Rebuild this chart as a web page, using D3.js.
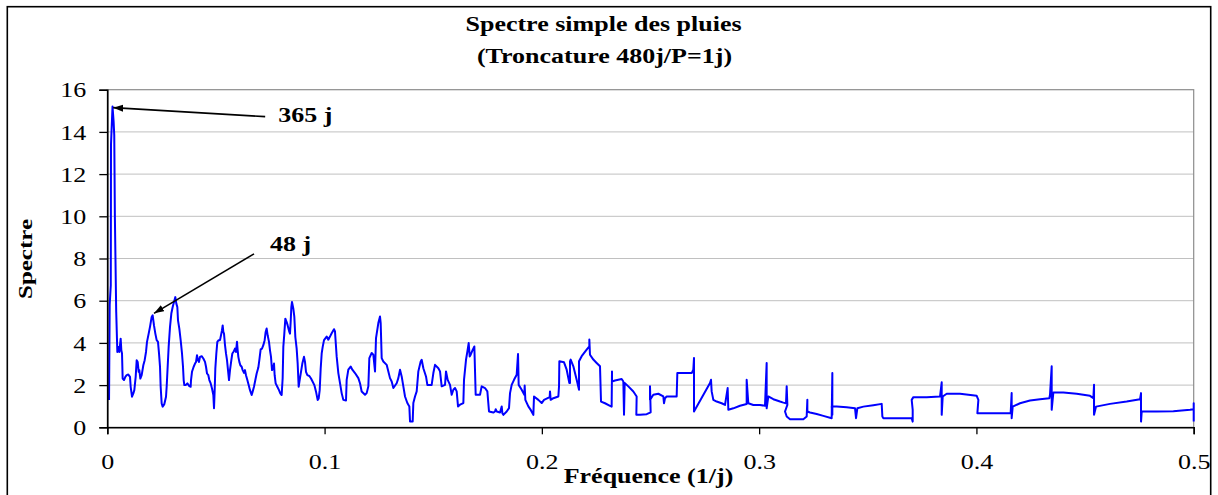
<!DOCTYPE html>
<html><head><meta charset="utf-8">
<script src="https://cdn.jsdelivr.net/npm/d3@7"></script>
<style>body{margin:0;background:#fff}svg{display:block}</style>
</head><body>
<svg id="c" width="1218" height="495"></svg>
<script>
// ---- data ----
const frequence = [
0.0008,0.0011,0.0016,0.0017,0.0024,0.0029,0.0032,0.0035,0.0041,
0.00462,0.00508,0.00554,0.00615,0.00646,0.00677,0.00707,0.00769,0.00830,0.00891,
0.00968,0.01045,0.01076,0.01137,0.01198,0.01244,0.01306,0.01352,0.01398,0.01444,
0.01474,0.01520,0.01582,0.01658,0.01720,0.01781,0.01827,0.01904,0.01965,0.02042,
0.02088,0.02149,0.02211,0.02272,0.02333,0.02380,0.02426,0.02456,0.02502,0.02548,
0.02625,0.02702,0.02732,0.02778,0.02824,0.02886,0.02947,0.03009,0.03070,0.03131,
0.03177,0.03223,0.03254,0.03315,0.03376,0.03438,0.03484,0.03515,0.03545,0.03607,
0.03684,0.03776,0.03837,0.03853,0.03898,0.03975,0.04037,0.04083,0.04129,0.04175,
0.04221,0.04267,0.04343,0.04420,0.04497,0.04543,0.04589,0.04650,0.04696,0.04758,
0.04819,0.04880,0.04911,0.04942,0.04972,0.05018,0.05064,0.05126,0.05187,0.05233,
0.05279,0.05310,0.05340,0.05371,0.05417,0.05463,0.05509,0.05555,0.05601,0.05647,
0.05709,0.05755,0.05801,0.05847,0.05877,0.05923,0.05969,0.06000,0.06031,0.06077,
0.06123,0.06184,0.06230,0.06291,0.06337,0.06383,0.06445,0.06506,0.06567,0.06644,
0.06690,0.06751,0.06813,0.06874,0.06951,0.06997,0.07058,0.07119,0.07181,0.07242,
0.07288,0.07334,0.07380,0.07442,0.07488,0.07534,0.07580,0.07626,0.07672,0.07702,
0.07748,0.07825,0.07902,0.07963,0.08024,0.08070,0.08101,0.08147,0.08194,0.08255,
0.08301,0.08378,0.08408,0.08439,0.08470,0.08500,0.08562,0.08608,0.08654,0.08715,
0.08761,0.08807,0.08853,0.08915,0.08976,0.09053,0.09099,0.09145,0.09207,0.09299,
0.09376,0.09452,0.09529,0.09606,0.09683,0.09729,0.09775,0.09821,0.09867,0.09913,
0.09974,
0.10096,0.10172,0.10249,0.10326,0.10433,0.10479,0.10556,0.10633,0.10710,0.10786,
0.10863,0.10986,0.11017,0.11093,0.11201,0.11278,0.11400,0.11554,0.11630,0.11707,
0.11861,0.11937,0.12014,0.12060,0.12167,0.12244,0.12321,0.12367,0.12474,0.12551,
0.12582,0.12628,0.12704,0.12858,0.12935,0.13011,0.13088,0.13165,0.13318,0.13395,
0.13472,0.13548,0.13625,0.13702,0.13809,0.13901,0.13932,0.14055,0.14085,0.14162,
0.14239,0.14315,0.14423,0.14469,0.14546,0.14668,0.14730,0.14929,0.15006,0.15083,
0.15236,0.15313,0.15390,0.15543,0.15589,0.15666,0.15773,0.15850,0.15927,0.16003,
0.16080,0.16141,0.16233,0.16387,0.16417,0.16509,0.16571,0.16632,0.16678,0.16724,
0.16816,0.16893,0.16954,0.17154,0.17230,0.17384,0.17491,0.17568,0.17767,0.17844,
0.17875,0.17921,0.18074,0.18151,0.18182,0.18228,0.18381,0.18488,0.18535,0.18611,
0.18719,0.18841,0.18903,0.18933,0.19071,0.19194,0.19209,0.19240,0.19378,0.19501,
0.19608,0.19639,0.19838,0.19992,0.20099,0.20360,
0.20375,0.20406,0.20529,0.20759,0.20790,0.20805,0.21020,0.21142,0.21265,0.21296,
0.21296,0.21326,0.21449,0.21602,0.21710,0.21710,0.21832,0.22062,0.22185,0.22185,
0.22215,0.22369,0.22522,0.22676,0.22722,0.22906,0.23136,0.23212,0.23228,0.23228,
0.23366,0.23673,0.23750,0.23781,0.23811,0.23980,0.24210,0.24363,0.24348,0.24517,
0.24824,0.25008,0.24977,0.24977,0.25130,0.25360,0.25590,0.25621,0.25667,0.25744,
0.26204,0.26235,0.26895,0.26971,0.27002,0.27002,0.27739,0.27785,0.27815,0.27892,
0.28045,0.28275,0.28429,0.28551,0.28582,0.28812,0.29119,0.29426,0.29426,0.29502,
0.29732,0.30039,0.30269,0.30346,0.30346,0.30422,0.30653,0.30960,
0.31114,0.31237,0.31268,0.31299,0.31191,0.31268,0.31421,0.32035,0.32188,0.32219,
0.32219,0.32341,0.32648,0.32955,0.33338,0.33369,0.33369,0.33338,0.33569,0.34029,
0.34413,0.34459,0.34520,0.34796,0.35257,0.35640,0.35671,0.35717,0.36330,0.37021,
0.37067,0.37067,0.37021,0.37098,0.37712,0.38325,0.38402,0.38402,0.38448,0.38632,
0.39246,0.40013,0.40090,0.40044,0.40320,
0.40625,0.41239,0.41576,0.41622,0.41622,0.41669,0.42006,0.42466,0.42927,0.43356,
0.43387,0.43464,0.43464,0.43541,0.44001,0.44615,0.45228,0.45382,0.45413,0.45413,
0.45505,0.46149,0.46916,0.47530,0.47576,0.47576,0.47607,0.48297,0.49064,0.49831,
0.50000,0.50000,0.50000
];
const spectre = [
1.29,5.80,6.74,13.4,15.2,14.5,13.85,9.9,5.48,
3.57,3.81,3.57,4.20,3.65,3.50,2.31,2.24,2.39,2.47,
2.50,2.39,1.92,1.45,1.61,1.76,2.39,3.18,3.10,2.63,
2.71,2.31,2.47,2.94,3.18,3.57,4.05,4.44,4.76,5.23,
5.31,4.83,4.44,4.13,4.05,3.50,2.87,1.92,1.13,0.98,
1.10,1.45,1.92,2.87,3.81,4.76,5.39,5.70,5.94,6.17,
5.86,5.70,5.07,4.68,4.13,3.50,2.87,2.24,2.00,2.00,
2.08,1.95,1.92,2.24,2.63,2.87,3.02,3.10,3.42,3.18,
3.10,3.34,3.37,3.26,3.10,2.87,2.55,2.47,2.24,2.08,
1.84,1.53,0.90,1.76,2.79,3.50,4.05,4.13,4.13,4.36,
4.60,4.83,4.52,4.44,3.89,3.50,3.18,2.71,2.24,2.71,
3.18,3.50,3.57,3.65,3.73,3.57,4.05,3.65,3.34,3.10,
2.94,2.87,2.71,2.58,2.71,2.47,2.24,2.00,1.76,1.53,
1.69,1.92,2.24,2.55,2.83,3.18,3.69,3.73,3.89,4.13,
4.52,4.68,4.36,4.05,3.65,3.34,2.71,2.79,3.02,2.47,
2.08,1.92,1.76,1.61,1.53,2.31,3.81,4.44,5.15,4.99,
4.83,4.52,4.44,4.99,5.70,5.94,5.62,5.23,4.28,3.73,
3.02,1.92,2.24,2.63,3.02,3.34,3.10,2.63,2.47,2.43,
2.31,2.16,2.00,1.69,1.29,1.37,1.76,2.79,3.50,3.81,
4.13,
4.30,4.15,4.30,4.46,4.65,4.54,3.36,2.57,2.09,1.62,
1.30,1.27,2.25,2.73,2.88,2.73,2.57,2.33,2.09,1.70,
1.54,1.62,1.94,3.28,3.52,3.44,2.65,4.23,4.94,5.25,
4.94,3.28,3.12,2.96,2.65,2.33,2.17,1.86,2.09,2.33,
2.73,2.41,1.94,1.46,1.15,0.99,0.28,0.28,1.15,1.46,
1.70,2.65,3.12,3.20,2.80,2.41,2.01,2.01,2.57,2.96,
2.80,2.65,1.94,2.01,2.65,2.25,2.01,1.54,1.78,1.86,
1.70,0.99,1.07,1.15,2.25,3.20,3.59,3.99,3.36,3.44,
3.67,3.83,1.54,1.54,1.94,1.86,1.70,0.75,0.70,0.75,
0.86,0.75,0.70,0.99,0.67,0.59,0.75,0.91,1.62,2.01,
2.25,2.49,3.47,2.01,1.78,1.54,1.98,1.30,0.99,0.80,
0.59,1.46,1.30,1.15,1.30,1.43,
1.70,1.30,1.38,1.46,1.94,3.13,3.08,2.73,2.10,2.10,
3.13,3.21,2.89,2.25,1.78,3.13,3.37,3.68,3.84,4.16,
3.44,3.21,3.05,2.89,1.22,1.14,1.02,0.98,2.65,2.17,
2.22,2.29,2.17,0.59,2.10,1.94,1.70,1.46,0.59,0.59,
0.62,0.71,1.94,1.30,1.54,1.59,1.46,1.14,1.38,1.46,
1.46,2.57,2.57,2.73,3.29,0.75,2.10,2.25,1.70,1.30,
1.22,1.14,1.06,1.86,0.83,0.90,1.02,1.10,2.25,1.14,
1.06,1.06,1.02,3.05,0.90,1.46,1.33,1.22,
1.17,1.14,1.94,1.06,0.75,0.51,0.38,0.38,0.51,1.30,
0.75,0.70,0.63,0.54,0.43,2.57,0.59,0.98,0.98,0.95,
0.90,0.43,0.90,0.98,1.05,1.11,0.51,0.43,0.43,0.43,
0.27,0.83,1.30,1.43,1.43,1.46,2.13,0.59,1.46,1.59,
1.59,1.49,1.30,0.67,0.67,
0.67,0.67,0.67,1.62,0.43,0.98,1.14,1.27,1.33,1.38,
1.54,2.89,0.83,1.65,1.65,1.59,1.49,1.38,2.02,0.59,
0.98,1.11,1.22,1.33,1.62,0.27,0.75,0.75,0.76,0.83,
0.86,1.14,0.27
];
const yTicks = [0, 2, 4, 6, 8, 10, 12, 14, 16];
const xTicks = [0, 0.1, 0.2, 0.3, 0.4, 0.5];
const xTickLabels = ["0", "0.1", "0.2", "0.3", "0.4", "0.5"];
const titleLines = ["Spectre simple des pluies", "(Troncature 480j/P=1j)"];
const xTitle = "Fréquence (1/j)";
const yTitle = "Spectre";
const peakLabels = ["365 j", "48 j"];
const peakFreq = [0.0027, 0.0215];
const peakValue = [15.15, 5.4];

// ---- layout ----
const SX = 1.3;              // horizontal stretch of the reference's text
const FONT = "'Liberation Serif','Times New Roman',serif";
const svg = d3.select("#c");
const L = 107.3, R = 1193.7, T = 89.7, B = 427.3;
const x = d3.scaleLinear().domain([0, 0.5]).range([L, R]);
const y = d3.scaleLinear().domain([0, 16]).range([B, T]);

// outer frame
svg.append("rect").attr("x", 7.3).attr("y", 6.7).attr("width", 1203.4).attr("height", 600)
  .attr("fill", "none").attr("stroke", "#000").attr("stroke-width", 1.6);

// gridlines
svg.append("g").selectAll("line").data(yTicks.filter(d => d > 0 && d < 16)).join("line")
  .attr("x1", L).attr("x2", R).attr("y1", d => y(d)).attr("y2", d => y(d))
  .attr("stroke", "#c0c0c0").attr("stroke-width", 1);
// plot border
svg.append("rect").attr("x", L).attr("y", T).attr("width", R - L).attr("height", B - T)
  .attr("fill", "none").attr("stroke", "#8c8c8c").attr("stroke-width", 1.2);

// series
const pts = d3.zip(frequence, spectre);
svg.append("path").datum(pts)
  .attr("d", d3.line().x(d => x(d[0])).y(d => y(d[1])))
  .attr("fill", "none").attr("stroke", "#0000ff").attr("stroke-width", 2)
  .attr("stroke-linejoin", "round");

// axes
const ya = svg.append("g").attr("transform", `translate(${L},0)`)
  .call(d3.axisLeft(y).tickValues(yTicks).tickSize(8).tickFormat(d3.format("d")));
const xa = svg.append("g").attr("transform", `translate(0,${B})`)
  .call(d3.axisBottom(x).tickValues(xTicks).tickSize(7).tickFormat((d, i) => xTickLabels[i]));
[ya, xa].forEach(g => {
  g.attr("font-family", FONT).attr("font-size", 20);
  g.select(".domain").attr("stroke", "#000").attr("stroke-width", 1.6);
  g.selectAll(".tick line").attr("stroke", "#000").attr("stroke-width", 1.3);
  g.selectAll("text").attr("fill", "#000");
});
ya.selectAll(".tick text").attr("x", -21 / SX).attr("dy", "0.36em")
  .attr("transform", `scale(${SX},1)`);
xa.selectAll(".tick text").attr("y", 42).attr("dy", 0)
  .attr("transform", `scale(${SX},1)`);

// text helper
function stretched(txt, px, py, opts) {
  return svg.append("text").text(txt)
    .attr("transform", `translate(${px},${py}) scale(${SX},1)`)
    .attr("text-anchor", opts.anchor || "middle")
    .attr("font-family", FONT).attr("font-size", opts.size || 20)
    .attr("font-weight", opts.weight || "normal").attr("fill", "#000");
}
// titles
stretched(titleLines[0], 603.5, 31, {weight: "bold"});
stretched(titleLines[1], 604.5, 63, {weight: "bold"});
stretched(xTitle, 648.5, 483, {weight: "bold"});
svg.append("text").text(yTitle)
  .attr("transform", "translate(31.5,259) rotate(-90)")
  .attr("text-anchor", "middle").attr("font-family", FONT).attr("font-size", 19)
  .attr("font-weight", "bold").attr("textLength", 80).attr("lengthAdjust", "spacingAndGlyphs");

// annotations
svg.append("defs").append("marker").attr("id", "ah")
  .attr("markerUnits", "userSpaceOnUse").attr("markerWidth", 11).attr("markerHeight", 8)
  .attr("refX", 10).attr("refY", 3.5).attr("orient", "auto")
  .append("path").attr("d", "M0,0 L10,3.5 L0,7 Z").attr("fill", "#000");
const tails = [[152, 9], [100, -59.5]];
const labelOff = [[165, 14], [116, -62.5]];
peakLabels.forEach((lab, i) => {
  const hx = x(peakFreq[i]), hy = y(peakValue[i]);
  svg.append("line").attr("x1", hx + tails[i][0]).attr("y1", hy + tails[i][1])
    .attr("x2", hx).attr("y2", hy).attr("stroke", "#000").attr("stroke-width", 1.6)
    .attr("marker-end", "url(#ah)");
  stretched(lab, hx + labelOff[i][0], hy + labelOff[i][1], {weight: "bold", anchor: "start"});
});
</script>
</body></html>
